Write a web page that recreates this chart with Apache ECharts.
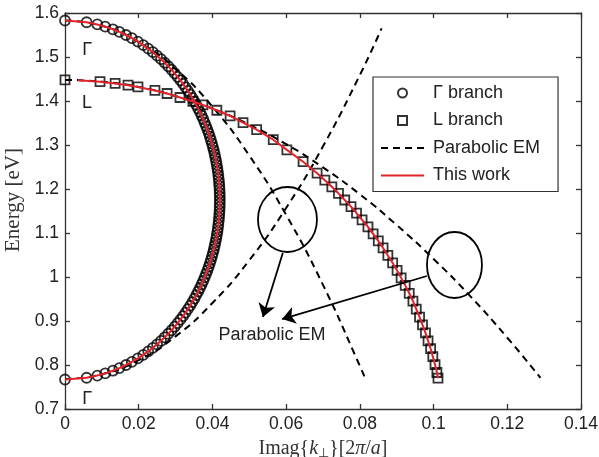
<!DOCTYPE html>
<html><head><meta charset="utf-8">
<script src="https://cdn.jsdelivr.net/npm/echarts@6/dist/echarts.min.js"></script>
<style>html,body{margin:0;padding:0;background:#fff}#c{width:599px;height:457px}</style>
</head><body><div id="c"></div>
<script>
// ---- tick labels ----
const xTickLabels = ['0','0.02','0.04','0.06','0.08','0.1','0.12','0.14'];
const yTickLabels = ['0.7','0.8','0.9','1','1.1','1.2','1.3','1.4','1.5','1.6'];

// ---- Gamma branch (circles) ----
const gammaK = [0,0.00586,0.00877,0.01091,0.01299,0.01475,0.01655,0.01814,0.01976,0.02124,0.02258,0.02383,0.02498,0.02606,0.02706,0.02801,0.02891,0.02975,0.03055,0.03131,0.03202,0.03270,0.03335,0.03397,0.03455,0.03510,0.03563,0.03613,0.03661,0.03706,0.03749,0.03789,0.03827,0.03864,0.03898,0.03930,0.03960,0.03988,0.04014,0.04039,0.04061,0.04082,0.04101,0.04118,0.04134,0.04148,0.04160,0.04171,0.04180,0.04187,0.04193,0.04197,0.04199,0.04200,
  0.04199,0.04197,0.04193,0.04187,0.04180,0.04171,0.04160,0.04148,0.04134,0.04118,0.04101,0.04082,0.04061,0.04039,0.04014,0.03988,0.03960,0.03930,0.03898,0.03864,0.03827,0.03789,0.03749,0.03706,0.03661,0.03613,0.03563,0.03510,0.03455,0.03397,0.03335,0.03270,0.03202,0.03131,0.03055,0.02975,0.02891,0.02801,0.02706,0.02606,0.02498,0.02383,0.02258,0.02124,0.01976,0.01814,0.01655,0.01475,0.01299,0.01091,0.00877,0.00586,0];
const gammaE = [1.583,1.579,1.574,1.569,1.563,1.557,1.550,1.543,1.535,1.527,1.519,1.511,1.503,1.495,1.487,1.479,1.471,1.463,1.455,1.447,1.439,1.431,1.423,1.415,1.407,1.399,1.391,1.383,1.375,1.367,1.359,1.351,1.343,1.335,1.327,1.319,1.311,1.303,1.295,1.287,1.279,1.271,1.263,1.255,1.247,1.239,1.231,1.223,1.215,1.207,1.199,1.191,1.183,1.175,
  1.167,1.159,1.151,1.143,1.135,1.127,1.119,1.111,1.103,1.095,1.087,1.079,1.071,1.063,1.055,1.047,1.039,1.031,1.023,1.015,1.007,0.999,0.991,0.983,0.975,0.967,0.959,0.951,0.943,0.935,0.927,0.919,0.911,0.903,0.895,0.887,0.879,0.871,0.863,0.855,0.847,0.839,0.831,0.823,0.815,0.807,0.800,0.793,0.787,0.781,0.776,0.771,0.767];

// ---- L branch (squares) ----
const lK = [0,0.0095,0.0136,0.0171,0.0198,0.0244,0.0277,0.0312,0.0347,0.0374,0.0412,0.0448,0.0483,0.0520,0.0565,0.0602,0.0646,0.0684,
  0.0705,0.0724,0.0742,0.0759,0.0776,0.0791,0.0806,0.0822,0.0836,0.0850,0.0863,0.0876,0.0889,0.0901,0.0912,0.0923,0.0934,0.0944,0.0953,0.0962,0.0970,0.0978,0.0985,0.0992,0.0998,0.1004,0.1009,0.1012];
const lE = [1.448,1.444,1.440,1.436,1.432,1.424,1.417,1.408,1.399,1.391,1.379,1.366,1.351,1.335,1.312,1.289,1.262,1.236,
  1.220,1.205,1.190,1.175,1.160,1.145,1.130,1.114,1.098,1.082,1.066,1.049,1.032,1.015,0.998,0.981,0.963,0.945,0.927,0.909,0.891,0.873,0.855,0.837,0.819,0.801,0.783,0.770];

// ---- "This work" red curve for L branch (starts just right of the k=0 square) ----
const lineLK = [0.0035,0.0095,0.0136,0.0171,0.0198,0.0244,0.0277,0.0312,0.0347,0.0374,0.0412,0.0448,0.0483,0.0520,0.0565,0.0602,0.0646,0.0684,
  0.0705,0.0724,0.0742,0.0759,0.0776,0.0791,0.0806,0.0822,0.0836,0.0850,0.0863,0.0876,0.0889,0.0901,0.0912,0.0923,0.0934,0.0944,0.0953,0.0962,0.0970,0.0978,0.0985,0.0992,0.0998,0.1004,0.1009,0.1012];
const lineLE = [1.447,1.444,1.440,1.436,1.432,1.424,1.417,1.408,1.399,1.391,1.379,1.366,1.351,1.335,1.312,1.289,1.262,1.236,
  1.220,1.205,1.190,1.175,1.160,1.145,1.130,1.114,1.098,1.082,1.066,1.049,1.032,1.015,0.998,0.981,0.963,0.945,0.927,0.909,0.891,0.873,0.855,0.837,0.819,0.801,0.783,0.770];

// ---- Parabolic effective-mass curves (dashed) ----
const p1K = [0,0.01,0.02,0.03,0.04,0.05,0.06,0.07,0.08,0.0859];
const p1E = [0.768,0.779,0.811,0.865,0.941,1.038,1.157,1.297,1.459,1.565];
const p2K = [0,0.01,0.02,0.03,0.04,0.05,0.06,0.07,0.08,0.0814];
const p2E = [1.583,1.571,1.534,1.473,1.387,1.276,1.141,0.982,0.798,0.770];
const p3K = [0,0.01,0.02,0.03,0.04,0.05,0.06,0.07,0.08,0.09,0.10,0.11,0.12,0.129];
const p3E = [1.448,1.444,1.432,1.411,1.383,1.346,1.302,1.249,1.188,1.118,1.041,0.956,0.862,0.771];

const zip = (a, b) => a.map((v, i) => [v, b[i]]);

const chart = echarts.init(document.getElementById('c'), null, {renderer: 'canvas'});
const axisCol = '#333';
const sans = '"Liberation Sans", Arial, sans-serif';
const serif = '"Liberation Serif", "Times New Roman", serif';
const red = '#e4222a';
const dashStyle = {color: '#000', width: 2, type: [7, 5]};
const markerStyle = {color: 'rgba(255,255,255,0)', borderColor: '#000', borderWidth: 1.8};

function xAxisCfg(pos, labels) {
  return {
    type: 'value', min: 0, max: 0.14, interval: 0.02, position: pos,
    axisLine: {show: true, onZero: false, lineStyle: {color: axisCol, width: 1.3}},
    axisTick: {show: true, inside: true, length: 5, lineStyle: {color: axisCol, width: 1.3}},
    splitLine: {show: false},
    axisLabel: labels ? {color: '#222', fontSize: 17.5, fontFamily: sans, margin: 6,
      formatter: v => xTickLabels[Math.round(v / 0.02)]} : {show: false}
  };
}
function yAxisCfg(pos, labels) {
  return {
    type: 'value', min: 0.7, max: 1.6, interval: 0.1, position: pos,
    axisLine: {show: true, onZero: false, lineStyle: {color: axisCol, width: 1.3}},
    axisTick: {show: true, inside: true, length: 5, lineStyle: {color: axisCol, width: 1.3}},
    splitLine: {show: false},
    axisLabel: labels ? {color: '#222', fontSize: 17.5, fontFamily: sans, margin: 6,
      formatter: v => yTickLabels[Math.round((v - 0.7) / 0.1)]} : {show: false}
  };
}

const xb = xAxisCfg('bottom', true);
xb.name = 'Imag{{i|k}{sub|⊥}}[2{i|π}/{i|a}]';
xb.nameLocation = 'middle';
xb.nameGap = 29;
xb.nameTextStyle = {fontFamily: serif, fontSize: 20, color: '#333',
  rich: {i: {fontFamily: serif, fontStyle: 'italic', fontSize: 20, color: '#333'},
         sub: {fontFamily: serif, fontSize: 13, color: '#333', padding: [9, 0, 0, 0]}}};
const yl = yAxisCfg('left', true);
yl.name = 'Energy [eV]';
yl.nameLocation = 'middle';
yl.nameGap = 33;
yl.nameTextStyle = {fontFamily: serif, fontSize: 21, color: '#333', padding: [0, 0, 0, 22]};

const option = {
  animation: false,
  backgroundColor: '#fff',
  grid: {left: 65, right: 18, top: 13, bottom: 48, containLabel: false, outerBoundsMode: 'none'},
  xAxis: [xb, xAxisCfg('top', false)],
  yAxis: [yl, yAxisCfg('right', false)],
  legend: {
    left: 373, top: 77, orient: 'vertical',
    backgroundColor: '#fff', borderColor: '#333', borderWidth: 1.2,
    padding: [7, 18, 7, 7], itemWidth: 43, itemHeight: 9, itemGap: 9.5,
    selectedMode: false, symbolKeepAspect: true,
    textStyle: {fontSize: 18, fontFamily: sans, color: '#222', lineHeight: 17, padding: [0, 0, 0, 4]},
    data: [
      {name: 'Γ branch', icon: 'circle'},
      {name: 'L branch', icon: 'path://M0,0L10,0L10,10L0,10Z'},
      {name: 'Parabolic EM', itemStyle: {opacity: 0}},
      {name: 'This work', itemStyle: {opacity: 0}}
    ]
  },
  series: [
    {name: 'Parabolic EM', type: 'line', data: zip(p1K, p1E), smooth: true, symbol: 'none', lineStyle: dashStyle, itemStyle: {color: '#000'}, z: 2},
    {name: 'Parabolic EM', type: 'line', data: zip(p2K, p2E), smooth: true, symbol: 'none', lineStyle: dashStyle, itemStyle: {color: '#000'}, z: 2},
    {name: 'Parabolic EM', type: 'line', data: zip(p3K, p3E), smooth: true, symbol: 'none', lineStyle: dashStyle, itemStyle: {color: '#000'}, z: 2},
    {name: 'Γ branch', type: 'scatter', data: zip(gammaK, gammaE), symbol: 'circle', symbolSize: 10, clip: false,
     itemStyle: markerStyle, z: 3},
    {name: 'L branch', type: 'scatter', data: zip(lK, lE), symbol: 'rect', symbolSize: 9, clip: false,
     itemStyle: markerStyle, z: 3},
    {name: 'This work', type: 'line', data: zip(gammaK, gammaE), symbol: 'none', lineStyle: {color: red, width: 2}, itemStyle: {color: red}, z: 4},
    {name: 'This work', type: 'line', data: zip(lineLK, lineLE), symbol: 'none', lineStyle: {color: red, width: 2}, itemStyle: {color: red}, z: 4},
    {name: 'annot', type: 'line', data: [], z: 5,
     markLine: {silent: true, symbol: ['none', 'arrow'], symbolSize: 13, animation: false,
       lineStyle: {color: '#000', width: 1.8, type: 'solid'}, label: {show: false},
       data: [
         [{coord: [0.0591, 1.0545]}, {coord: [0.0537, 0.909]}],
         [{coord: [0.0982, 1.0023]}, {coord: [0.0589, 0.9045]}]
       ]}}
  ]
};
chart.setOption(option);

// annotations placed in data coordinates
const annot = {
  ellipses: [{c: [0.06036, 1.1307], rx: 29.5, ry: 32.5}, {c: [0.10567, 1.0273], rx: 27.5, ry: 33}],
  texts: [{c: [0.006, 1.516], t: 'Γ'}, {c: [0.006, 1.3955], t: 'L'}, {c: [0.006, 0.7227], t: 'Γ'},
          {c: [0.05616, 0.8682], t: 'Parabolic EM'}]
};
const px = p => chart.convertToPixel({xAxisIndex: 0, yAxisIndex: 0}, p);
const g = [];
annot.ellipses.forEach(e => {
  const p = px(e.c);
  g.push({type: 'ellipse', shape: {cx: p[0], cy: p[1], rx: e.rx, ry: e.ry},
    style: {fill: 'none', stroke: '#000', lineWidth: 1.8}, z: 10});
});
annot.texts.forEach(t => {
  const p = px(t.c);
  g.push({type: 'text', x: p[0], y: p[1], style: {text: t.t, fill: '#222', font: '18px ' + sans,
    textAlign: 'center', textVerticalAlign: 'middle'}, z: 10});
});
chart.setOption({graphic: g});
</script></body></html>
